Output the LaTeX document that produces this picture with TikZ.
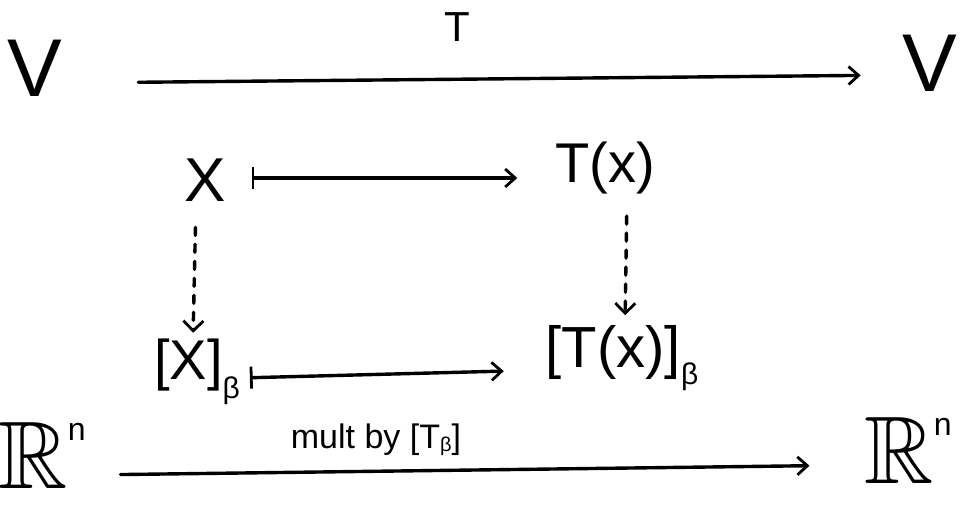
\documentclass[tikz,border=0pt]{standalone}
\usepackage{amssymb}
\usepackage{fontspec}
\setmainfont{Liberation Sans}
\usetikzlibrary{arrows.meta}
\tikzset{
  hand/.style={line width=3.4pt, line cap=round},
  arr/.style={hand, -{Straight Barb[length=10pt,width=18pt,line width=2.8pt]}},
  mapsto/.style={hand, {Bar[width=22pt,line width=2.8pt]}-{Straight Barb[length=10pt,width=18pt,line width=2.8pt]}},
  dash arr/.style={hand, dashed, dash pattern=on 8pt off 9pt, -{Straight Barb[length=10pt,width=20pt,line width=2.8pt]}},
  lbl/.style={inner sep=0pt, outer sep=0pt}
}
\begin{document}
\begin{tikzpicture}[x=1pt,y=-1pt]
\useasboundingbox (0,0) rectangle (967,506);
% top row
\node[lbl, font=\fontsize{82}{82}\selectfont] (V1) at (35,68) {V};
\node[lbl, font=\fontsize{82}{82}\selectfont] (V2) at (930,63) {V};
\node[lbl, font=\fontsize{42}{42}\selectfont] (Tl) at (457,27) {T};
\draw[arr, shorten <=76pt, shorten >=42pt] ([yshift=-15pt]V1.east) -- ([yshift=-12pt]V2.west);
% middle
\node[lbl, font=\fontsize{62}{62}\selectfont] (X) at (205,180) {X};
\node[lbl, font=\fontsize{56}{56}\selectfont] (TX) at (605,168) {T(x)};
\draw[mapsto, shorten <=26pt, shorten >=38pt] ([yshift=2pt]X.east) -- ([yshift=-10pt]TX.west);
% lower
\node[lbl, font=\fontsize{56}{56}\selectfont] (XB) at (197,372) {[X]\raisebox{-0.35em}{\fontsize{30}{30}\selectfont β}};
\node[lbl, font=\fontsize{58}{58}\selectfont] (TXB) at (622,358) {[T(x)]\raisebox{-0.3em}{\fontsize{30}{30}\selectfont β}};
\draw[dash arr, shorten <=26pt, shorten >=6pt] ([xshift=-9pt]X.south) -- ([xshift=-4pt]XB.north);
\draw[dash arr, shorten <=22pt, shorten >=10pt] ([xshift=22pt]TX.south) -- ([xshift=3pt]TXB.north);
\draw[mapsto, shorten <=10pt, shorten >=42pt] ([yshift=-6pt]XB.east) -- ([yshift=-12pt]TXB.west);
% bottom
\node[lbl, font=\fontsize{96}{96}\selectfont] (R1) at (42,455) {$\mathbb{R}$\raisebox{0.5em}{\fontsize{32}{32}\selectfont n}};
\node[lbl, font=\fontsize{96}{96}\selectfont] (R2) at (908,450) {$\mathbb{R}$\raisebox{0.5em}{\fontsize{32}{32}\selectfont n}};
\node[lbl, font=\fontsize{34}{34}\selectfont] (ml) at (376,440) {mult by [T\raisebox{-0.1em}{\fontsize{20}{20}\selectfont β}]};
\draw[arr, shorten <=35pt, shorten >=55pt] ([yshift=-20pt]R1.east) -- ([yshift=-15pt]R2.west);
\end{tikzpicture}
\end{document}
